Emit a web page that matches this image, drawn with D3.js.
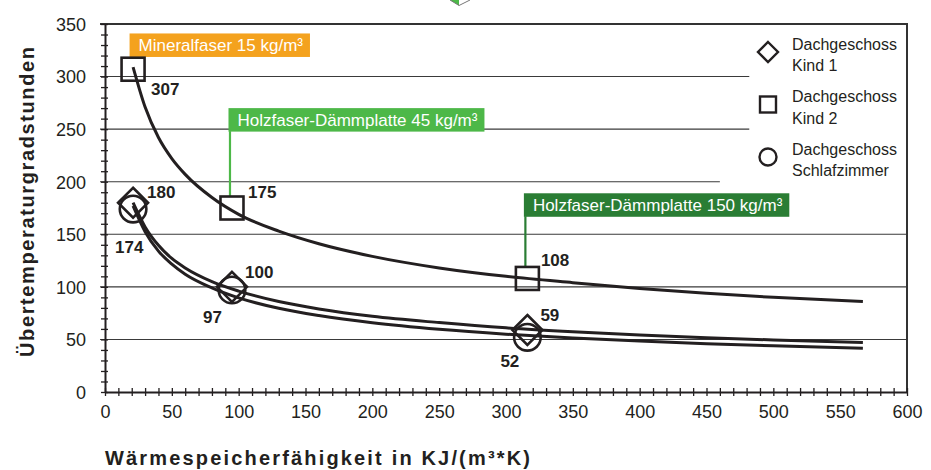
<!DOCTYPE html>
<html><head><meta charset="utf-8">
<script src="https://cdn.jsdelivr.net/npm/d3@7"></script>
<style>
body{margin:0;background:#fff}
svg{display:block}
text{font-family:"Liberation Sans",Arial,Helvetica,sans-serif}
</style>
</head><body>
<svg id="chart" width="931" height="470"></svg>
<script>
// ---------- data ----------
const xValues = [21, 95, 316];
const kind1Values = [180, 100, 59];
const kind2Values = [307, 175, 108];
const schlafValues = [174, 97, 52];

// trend curves
const curveX      = [21, 30, 40, 50, 60, 80, 100, 130, 160, 200, 250, 300, 350, 400, 450, 500, 567];
const kind2Curve  = [309, 271, 242, 222, 207, 185, 169, 153, 141, 129, 118, 110, 104, 98.5, 94, 90, 86];
const kind1Curve  = [180, 157, 139.5, 127, 118, 105, 96, 86, 79, 72, 66, 61, 57.3, 54.3, 51.7, 49.5, 47];
const schlafCurve = [177, 152.5, 134, 121.6, 112, 99, 89.5, 79.6, 72.7, 65.8, 59.6, 55, 51.4, 48.4, 46, 43.9, 41.5];

const xTickValues = [0, 50, 100, 150, 200, 250, 300, 350, 400, 450, 500, 550, 600];
const yTickValues = [0, 50, 100, 150, 200, 250, 300, 350];

const legendLabels = [["Dachgeschoss", "Kind 1"], ["Dachgeschoss", "Kind 2"], ["Dachgeschoss", "Schlafzimmer"]];
const calloutTexts = ["Mineralfaser 15 kg/m³", "Holzfaser-Dämmplatte 45 kg/m³", "Holzfaser-Dämmplatte 150 kg/m³"];

const xTitle = "Wärmespeicherfähigkeit in KJ/(m³*K)";
const yTitle = "Übertemperaturgradstunden";

// ---------- layout / style ----------
const INK = "#231f20";
const calloutColors = ["#f4a21e", "#4db848", "#2a7d34"];
const calloutTopValue = [341, 270, 189];
const kind2LabelOff = [[18, 26], [16, -10], [13.5, -12]];
const kind1LabelOff = [[14, -5], [13, -9], [13, -9]];
const schlafLabelOff = [[-18, 44], [-29, 33], [-27, 30]];

const svg = d3.select("#chart");
const x = d3.scaleLinear().domain([0, 600]).range([105, 907]);
const y = d3.scaleLinear().domain([0, 350]).range([392, 24]);

// decorative cut-off icon at top
svg.append("path").attr("d", "M450,0 L459,5.5 L459,0 Z").attr("fill", "#4db848");
svg.append("path").attr("d", "M450,0 L459,5.5 L470,0").attr("fill", "none").attr("stroke", "#777").attr("stroke-width", 1);

// gridlines
const gridEnd = v => (v === 300 || v === 250) ? x(482) : (v === 200 ? x(460) : x(600));
svg.append("g").selectAll("line").data(yTickValues.filter(v => v > 0 && v < 350)).join("line")
  .attr("x1", x(0) - 5).attr("x2", d => gridEnd(d))
  .attr("y1", d => y(d)).attr("y2", d => y(d))
  .attr("stroke", "#3a3a3a").attr("stroke-width", 1.1);

// frame top/right
svg.append("line").attr("x1", x(0) - 5).attr("x2", x(600) + 1).attr("y1", y(350)).attr("y2", y(350))
  .attr("stroke", "#333").attr("stroke-width", 2);
svg.append("line").attr("x1", x(600)).attr("x2", x(600)).attr("y1", y(350)).attr("y2", y(0))
  .attr("stroke", "#333").attr("stroke-width", 2);

// x axis
const xAxis = d3.axisBottom(x).tickValues(d3.range(0, 601, 10)).tickSize(0)
  .tickFormat(d => xTickValues.includes(d) ? d : "");
const gx = svg.append("g").attr("transform", `translate(0,${y(0)})`).call(xAxis);
gx.select(".domain").attr("stroke", INK).attr("stroke-width", 2);
gx.selectAll(".tick line").attr("y1", -4).attr("y2", 4).attr("stroke", INK).attr("stroke-width", 1.3);
gx.selectAll(".tick text").attr("y", 0).attr("dy", 0).attr("transform", "translate(0,26)")
  .attr("font-size", 18).attr("fill", INK).attr("font-family", null);

// y axis
const yAxis = d3.axisLeft(y).tickValues(d3.range(0, 351, 10)).tickSize(0)
  .tickFormat(d => yTickValues.includes(d) ? d : "");
const gy = svg.append("g").attr("transform", `translate(${x(0)},0)`).call(yAxis);
gy.select(".domain").attr("stroke", INK).attr("stroke-width", 2);
gy.selectAll(".tick line").attr("x1", -4).attr("x2", 3).attr("stroke", INK).attr("stroke-width", 1.3);
gy.selectAll(".tick text").attr("x", -19).attr("dy", "0.35em")
  .attr("font-size", 18).attr("fill", INK).attr("font-family", null);

// titles
svg.append("text").attr("x", x(0)).attr("y", 465).attr("font-size", 20).attr("font-weight", "bold")
  .attr("fill", INK).attr("textLength", 425).text(xTitle);
svg.append("text").attr("transform", "translate(34,202) rotate(-90)").attr("text-anchor", "middle")
  .attr("font-size", 20).attr("font-weight", "bold").attr("fill", INK).attr("textLength", 310).text(yTitle);

// curves
const line = d3.line().x(d => x(d[0])).y(d => y(d[1])).curve(d3.curveMonotoneX);
[kind2Curve, kind1Curve, schlafCurve].forEach(c => {
  svg.append("path").datum(curveX.map((xv, i) => [xv, c[i]])).attr("d", line)
    .attr("fill", "none").attr("stroke", INK).attr("stroke-width", 3);
});

// callouts (attached to Kind 2 points)
calloutTexts.forEach((t, i) => {
  const mx = x(xValues[i]);
  const top = y(calloutTopValue[i]);
  const g = svg.append("g");
  const rect = g.append("rect").attr("fill", calloutColors[i]);
  const txt = g.append("text").attr("x", mx - 3.5 + 9).attr("y", top + 18).attr("font-size", 17)
    .attr("fill", "#fff").text(t);
  const w = txt.node().getComputedTextLength();
  rect.attr("x", mx - 3.5).attr("y", top).attr("width", w + 16).attr("height", 23.5);
  g.append("line").attr("x1", mx - 2).attr("x2", mx - 2).attr("y1", top + 23).attr("y2", y(kind2Values[i]) - 11.5)
    .attr("stroke", calloutColors[i]).attr("stroke-width", 2.2);
});

// markers
const mk = svg.append("g").attr("fill", "none").attr("stroke", INK).attr("stroke-width", 2.6);
xValues.forEach((xv, i) => {
  const cx = x(xv);
  // diamond Kind 1
  const dy1 = y(kind1Values[i]);
  mk.append("path").attr("d", `M${cx},${dy1 - 15}L${cx + 15},${dy1}L${cx},${dy1 + 15}L${cx - 15},${dy1}Z`);
  // circle Schlafzimmer
  mk.append("circle").attr("cx", cx).attr("cy", y(schlafValues[i])).attr("r", 13.3);
  // square Kind 2
  mk.append("rect").attr("x", cx - 11.5).attr("y", y(kind2Values[i]) - 11.5).attr("width", 23).attr("height", 23);
});

// value labels
const lab = svg.append("g").attr("font-size", 17).attr("font-weight", "bold").attr("fill", INK);
const addLabels = (vals, offs) => vals.forEach((v, i) => {
  lab.append("text").attr("x", x(xValues[i]) + offs[i][0]).attr("y", y(v) + offs[i][1]).text(v);
});
addLabels(kind2Values, kind2LabelOff);
addLabels(kind1Values, kind1LabelOff);
addLabels(schlafValues, schlafLabelOff);

// legend
const lg = svg.append("g");
legendLabels.forEach((lines, i) => {
  const cy = 52 + i * 52.5;
  const cx = 768;
  if (i === 0) lg.append("path").attr("d", `M${cx},${cy - 10}L${cx + 10},${cy}L${cx},${cy + 10}L${cx - 10},${cy}Z`)
      .attr("fill", "none").attr("stroke", INK).attr("stroke-width", 2.4);
  if (i === 1) lg.append("rect").attr("x", cx - 8).attr("y", cy - 8).attr("width", 16).attr("height", 16)
      .attr("fill", "none").attr("stroke", INK).attr("stroke-width", 2.4);
  if (i === 2) lg.append("circle").attr("cx", cx).attr("cy", cy).attr("r", 8.5)
      .attr("fill", "none").attr("stroke", INK).attr("stroke-width", 2.4);
  lines.forEach((l, j) => {
    lg.append("text").attr("x", 792).attr("y", cy - 2.5 + j * 21.5).attr("font-size", 16).attr("fill", INK).text(l);
  });
});
</script>
</body></html>
